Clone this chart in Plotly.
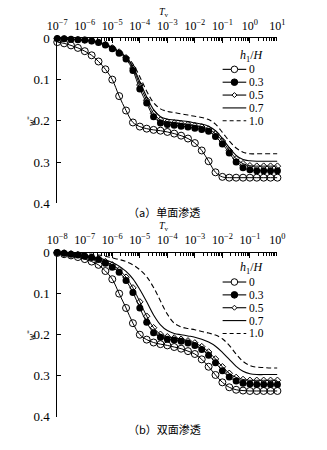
import plotly.graph_objects as go

# ---------------- data ----------------
log_tv_a = [-7.0, -6.75, -6.5, -6.25, -6.0, -5.75, -5.5, -5.25, -5.0, -4.75, -4.5, -4.25,
            -4.0, -3.75, -3.5, -3.25, -3.0, -2.75, -2.5, -2.25, -2.0, -1.75, -1.5, -1.25,
            -1.0, -0.75, -0.5, -0.25, 0.0, 0.25, 0.5, 0.75, 1.0]
log_tv_b = [-8.0, -7.75, -7.5, -7.25, -7.0, -6.75, -6.5, -6.25, -6.0, -5.75, -5.5, -5.25,
            -5.0, -4.75, -4.5, -4.25, -4.0, -3.75, -3.5, -3.25, -3.0, -2.75, -2.5, -2.25,
            -2.0, -1.75, -1.5, -1.25, -1.0, -0.75, -0.5, -0.25, 0.0]

# panel (a) single-face seepage
a_h0 = [0.009, 0.012, 0.017, 0.023, 0.031, 0.041, 0.056, 0.075, 0.100, 0.140, 0.175, 0.204,
        0.214, 0.219, 0.222, 0.224, 0.227, 0.231, 0.236, 0.243, 0.254, 0.272, 0.298, 0.325,
        0.336, 0.338, 0.338, 0.338, 0.338, 0.338, 0.338, 0.338, 0.338]
a_h03 = [0.000, 0.001, 0.002, 0.003, 0.004, 0.006, 0.010, 0.016, 0.025, 0.036, 0.050, 0.078,
         0.123, 0.157, 0.190, 0.205, 0.209, 0.211, 0.213, 0.215, 0.218, 0.221, 0.225, 0.238,
         0.256, 0.278, 0.300, 0.314, 0.319, 0.321, 0.321, 0.321, 0.321]
a_h05 = [0.000, 0.001, 0.002, 0.003, 0.004, 0.006, 0.009, 0.015, 0.023, 0.033, 0.047, 0.072,
         0.113, 0.150, 0.182, 0.198, 0.203, 0.205, 0.207, 0.209, 0.212, 0.215, 0.220, 0.231,
         0.249, 0.272, 0.292, 0.304, 0.309, 0.310, 0.310, 0.310, 0.310]
a_h07 = [0.000, 0.001, 0.002, 0.003, 0.004, 0.006, 0.009, 0.015, 0.022, 0.032, 0.045, 0.068,
         0.105, 0.142, 0.173, 0.190, 0.196, 0.198, 0.200, 0.202, 0.205, 0.208, 0.213, 0.224,
         0.243, 0.265, 0.284, 0.294, 0.297, 0.298, 0.298, 0.298, 0.298]
a_h10 = [0.000, 0.001, 0.002, 0.003, 0.004, 0.006, 0.009, 0.014, 0.021, 0.030, 0.042, 0.062,
         0.093, 0.128, 0.156, 0.171, 0.177, 0.180, 0.183, 0.186, 0.189, 0.192, 0.197, 0.208,
         0.228, 0.249, 0.266, 0.276, 0.280, 0.280, 0.280, 0.280, 0.280]

# panel (b) double-face seepage
b_h0 = [0.001, 0.004, 0.007, 0.011, 0.016, 0.022, 0.030, 0.045, 0.065, 0.100, 0.135, 0.172,
        0.200, 0.212, 0.219, 0.223, 0.226, 0.230, 0.234, 0.240, 0.247, 0.260, 0.278, 0.298,
        0.316, 0.328, 0.334, 0.336, 0.337, 0.337, 0.337, 0.337, 0.337]
b_h03 = [0.000, 0.002, 0.004, 0.006, 0.009, 0.012, 0.017, 0.026, 0.036, 0.048, 0.068, 0.097,
         0.135, 0.170, 0.195, 0.206, 0.211, 0.213, 0.216, 0.220, 0.226, 0.236, 0.250, 0.268,
         0.288, 0.303, 0.313, 0.318, 0.320, 0.321, 0.321, 0.321, 0.321]
b_h05 = [0.000, 0.001, 0.003, 0.005, 0.008, 0.011, 0.015, 0.022, 0.030, 0.042, 0.060, 0.086,
         0.120, 0.155, 0.183, 0.199, 0.205, 0.208, 0.211, 0.215, 0.220, 0.229, 0.242, 0.259,
         0.278, 0.294, 0.304, 0.309, 0.311, 0.311, 0.311, 0.311, 0.311]
b_h07 = [0.000, 0.001, 0.003, 0.005, 0.007, 0.010, 0.013, 0.018, 0.024, 0.033, 0.046, 0.064,
         0.090, 0.120, 0.152, 0.176, 0.190, 0.197, 0.200, 0.203, 0.206, 0.211, 0.218, 0.228,
         0.243, 0.260, 0.277, 0.289, 0.295, 0.297, 0.297, 0.297, 0.297]
b_h10 = [0.000, 0.000, 0.001, 0.002, 0.003, 0.004, 0.006, 0.009, 0.013, 0.017, 0.022, 0.030,
         0.042, 0.059, 0.085, 0.118, 0.150, 0.172, 0.181, 0.185, 0.188, 0.192, 0.196, 0.201,
         0.210, 0.226, 0.247, 0.265, 0.275, 0.279, 0.280, 0.281, 0.281]

series_labels = ["0", "0.3", "0.5", "0.7", "1.0"]
decades_a = [-7, -6, -5, -4, -3, -2, -1, 0, 1]
decades_b = [-8, -7, -6, -5, -4, -3, -2, -1, 0]
y_ticks = [0, 0.1, 0.2, 0.3, 0.4]
y_ticktext = ["0", "0.1", "0.2", "0.3", "0.4"]

# ---------------- styles ----------------
W, H = 327, 450
SERIF = "Liberation Serif"
styles = [
    dict(mode="lines+markers", line=dict(color="black", width=1),
         marker=dict(symbol="circle-open", size=7, color="black", line=dict(width=1, color="black"))),
    dict(mode="lines+markers", line=dict(color="black", width=1),
         marker=dict(symbol="circle", size=7, color="black")),
    dict(mode="lines+markers", line=dict(color="black", width=1),
         marker=dict(symbol="diamond-open", size=5, color="black", line=dict(width=1, color="black"))),
    dict(mode="lines", line=dict(color="black", width=1.1)),
    dict(mode="lines", line=dict(color="black", width=1.1, dash="5px,3px")),
]

fig = go.Figure()
panels = [
    ("x", "y", log_tv_a, [a_h0, a_h03, a_h05, a_h07, a_h10]),
    ("x2", "y2", log_tv_b, [b_h0, b_h03, b_h05, b_h07, b_h10]),
]
for xa, ya, lx, series in panels:
    tv = [10 ** v for v in lx]
    for lab, ys, st in zip(series_labels, series, styles):
        fig.add_trace(go.Scatter(x=tv, y=ys, xaxis=xa, yaxis=ya, name=lab, showlegend=False,
                                 line_shape="spline", cliponaxis=False, **st))

def px(x):
    return x / W

def py(y):
    return 1 - y / H

def sup_label(e):
    s = str(e).replace("-", "\u2212")
    return "10<sup>" + s + "</sup>"

def xaxis_cfg(decs):
    minor_vals = [k * 10 ** d for d in decs[:-1] for k in range(2, 10)]
    return dict(type="log", range=[decs[0], decs[-1]], domain=[px(50), px(283)], side="top",
                showline=True, linecolor="black", linewidth=1, ticks="inside", ticklen=5,
                tickcolor="black", tickwidth=1, ticklabelstandoff=3,
                tickvals=[10 ** d for d in decs], ticktext=[sup_label(d) for d in decs],
                tickfont=dict(family=SERIF, size=12, color="black"),
                minor=dict(ticks="inside", ticklen=3, tickcolor="black", tickwidth=0.8,
                           tickvals=minor_vals, showgrid=False),
                showgrid=False, zeroline=False, fixedrange=True)

def yaxis_cfg(top, bottom):
    return dict(range=[0.4, 0], domain=[py(bottom), py(top)], showline=True, linecolor="black",
                linewidth=1, ticks="inside", ticklen=4, tickcolor="black",
                tickvals=y_ticks, ticktext=y_ticktext, ticklabelstandoff=4,
                tickfont=dict(family=SERIF, size=13, color="black"),
                showgrid=False, zeroline=False, fixedrange=True)

fig.update_layout(
    width=W, height=H, margin=dict(l=0, r=0, t=0, b=0),
    paper_bgcolor="white", plot_bgcolor="white", showlegend=False,
    xaxis=dict(anchor="y", **xaxis_cfg(decades_a)),
    yaxis=dict(anchor="x", **yaxis_cfg(32.5, 203)),
    xaxis2=dict(anchor="y2", **xaxis_cfg(decades_b)),
    yaxis2=dict(anchor="x2", **yaxis_cfg(254, 424)),
)

ann = []
shapes = []
def text(x, y, s, size=12, family=SERIF, xanchor="center", angle=0, pad=1):
    ann.append(dict(x=px(x), y=py(y), xref="paper", yref="paper", text=s, showarrow=False,
                    xanchor=xanchor, yanchor="middle", textangle=angle, borderpad=pad,
                    font=dict(family=family, size=size, color="black")))

for top, tv_y, cap_y, cap in [(32.5, 5.5, 212.5, "（a）单面渗透"), (254, 227, 437, "（b）双面渗透")]:
    text(163, tv_y, "<i>T</i><sub>v</sub>", size=10, pad=0)
    text(22, top + 85, "<i>w</i><sup>*</sup>", size=10, angle=-90)
    text(163, cap_y, cap, size=11, family="Noto Sans CJK SC", pad=0)

# legends
for title_y, first_y in [(51, 64.5), (270, 284.5)]:
    text(256, title_y, "<i>h</i><sub>1</sub>/<i>H</i>", size=12, pad=0)
    for i, lab in enumerate(series_labels):
        yy = first_y + i * 13.3
        dash = "solid" if i < 4 else "4px,3px"
        shapes.append(dict(type="line", xref="paper", yref="paper", x0=px(225), x1=px(250),
                           y0=py(yy), y1=py(yy), line=dict(color="black", width=1.1, dash=dash)))
        if i in (0, 1):
            shapes.append(dict(type="circle", xref="paper", yref="paper", xsizemode="pixel",
                               ysizemode="pixel", xanchor=px(237.5), yanchor=py(yy),
                               x0=-3.3, x1=3.3, y0=-3.3, y1=3.3,
                               fillcolor="white" if i == 0 else "black",
                               line=dict(color="black", width=1)))
        elif i == 2:
            shapes.append(dict(type="path", xref="paper", yref="paper", xsizemode="pixel",
                               ysizemode="pixel", xanchor=px(237.5), yanchor=py(yy),
                               path="M 0 -2.5 L 2.5 0 L 0 2.5 L -2.5 0 Z", fillcolor="white",
                               line=dict(color="black", width=1)))
        text(252, yy, lab, size=11.5, xanchor="left", pad=0)

fig.update_layout(annotations=ann, shapes=shapes)
fig.write_html("out.html")
